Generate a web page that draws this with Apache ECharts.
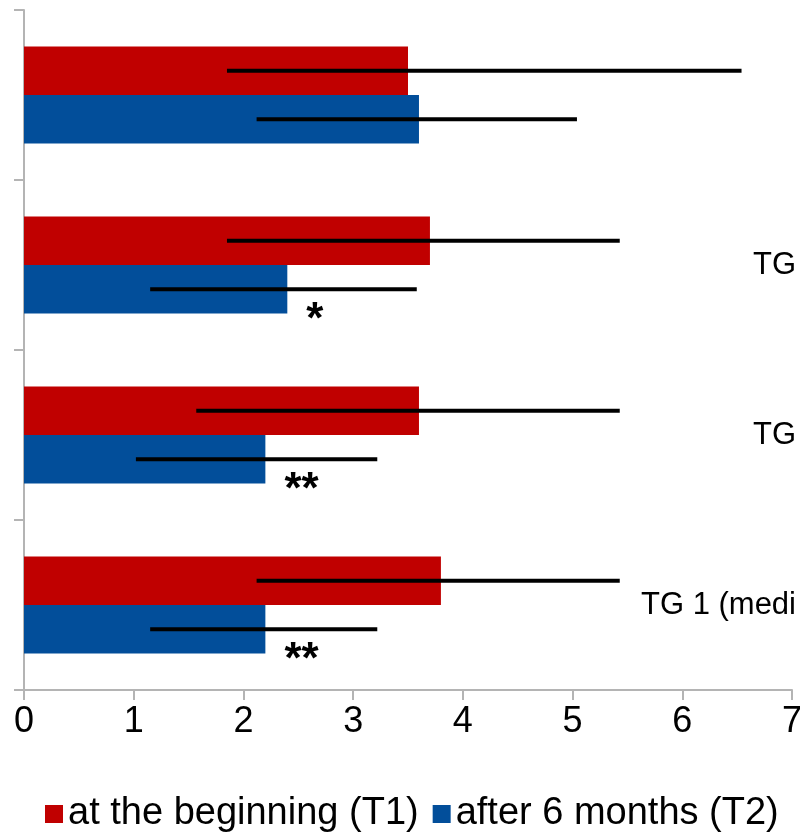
<!DOCTYPE html>
<html>
<head>
<meta charset="utf-8">
<script src="https://cdn.jsdelivr.net/npm/echarts@6/dist/echarts.min.js"></script>
<style>
  html, body { margin: 0; padding: 0; background: #fff; }
  #main { width: 800px; height: 833px; }
</style>
</head>
<body>
<div id="main"></div>
<script>
// categories, bottom to top (labels are cut off at the right edge in the original)
var categories = ['TG 1 (medi', 'TG', 'TG', ''];
var seriesNames = ['at the beginning (T1)', 'after 6 months (T2)'];
var t1Values = [3.8, 3.6, 3.7, 3.5];
var t2Values = [2.2, 2.2, 2.4, 3.6];
// error lines (low / high end)
var t1Low = [2.12, 1.57, 1.85, 1.85];
var t1High = [5.43, 5.43, 5.43, 6.54];
var t2Low = [1.15, 1.02, 1.15, 2.12];
var t2High = [3.22, 3.22, 3.58, 5.04];
// significance marks next to the T2 bars
var sigText = ['**', '**', '*', ''];
var sigX = [2.53, 2.53, 2.65, 0];
var xTicks = [0, 1, 2, 3, 4, 5, 6, 7];

var FONT = '"Liberation Sans", Arial, sans-serif';
var GAP = 0.43;

var myChart = echarts.init(document.getElementById('main'));

function errData(low, high) {
	return categories.map(function (c, i) {
		return [i, low[i], high[i]];
	});
}

// side: -1 = upper bar (T1), 1 = lower bar (T2)
function errRender(side) {
	return function (params, api) {
		var i = api.value(0);
		var c = api.coord([0, i]);
		var band = api.size([0, 1])[1];
		var barW = band * (1 - GAP) / 2;
		var y = c[1] + side * barW / 2;
		var x1 = api.coord([api.value(1), i])[0];
		var x2 = api.coord([api.value(2), i])[0];
		return {
			type: 'line',
			shape: { x1: x1, y1: y, x2: x2, y2: y },
			style: { stroke: '#000', lineWidth: 4 }
		};
	};
}

var option = {
	animation: false,
	grid: { left: 24, right: 8, top: 10, bottom: 143, outerBoundsMode: 'none' },
	legend: {
		data: seriesNames,
		left: 40,
		top: 790,
		itemGap: 14,
		itemWidth: 18,
		itemHeight: 18,
		icon: 'rect',
		textStyle: { fontSize: 38, color: '#000', fontFamily: FONT }
	},
	xAxis: {
		type: 'value',
		min: 0,
		max: 7,
		interval: 1,
		splitLine: { show: false },
		axisLine: { show: true, lineStyle: { color: '#b4b4b4', width: 2 } },
		axisTick: { show: true, length: 10, lineStyle: { color: '#b4b4b4', width: 2 } },
		axisLabel: {
			margin: 14,
			fontSize: 36,
			color: '#000',
			fontFamily: FONT,
			formatter: function (v) { return xTicks.indexOf(v) >= 0 ? String(v) : ''; }
		}
	},
	yAxis: [{
		type: 'category',
		data: categories,
		axisLine: { show: true, lineStyle: { color: '#b4b4b4', width: 2 } },
		axisTick: { show: true, length: 10, lineStyle: { color: '#b4b4b4', width: 2 } },
		axisLabel: { show: false }
	}, {
		type: 'category',
		position: 'right',
		data: categories,
		axisLine: { show: false },
		axisTick: { show: false },
		axisLabel: {
			inside: true,
			margin: -4,
			fontSize: 31,
			color: '#000',
			fontFamily: FONT,
			padding: [6, 0, 0, 0]
		}
	}],
	series: [{
		name: seriesNames[0],
		type: 'bar',
		data: t1Values,
		itemStyle: { color: '#c00000' },
		barGap: '0%',
		barCategoryGap: (GAP * 100) + '%'
	}, {
		name: seriesNames[1],
		type: 'bar',
		data: t2Values,
		itemStyle: { color: '#024e9a' },
		barGap: '0%',
		barCategoryGap: (GAP * 100) + '%'
	}, {
		name: 'err1',
		type: 'custom',
		z: 5,
		renderItem: errRender(-1),
		encode: { x: [1, 2], y: 0 },
		data: errData(t1Low, t1High)
	}, {
		name: 'err2',
		type: 'custom',
		z: 5,
		renderItem: errRender(1),
		encode: { x: [1, 2], y: 0 },
		data: errData(t2Low, t2High)
	}, {
		name: 'sig',
		type: 'custom',
		z: 6,
		renderItem: function (params, api) {
			var i = api.value(0);
			var t = sigText[i];
			if (!t) return null;
			var c = api.coord([api.value(1), i]);
			var band = api.size([0, 1])[1];
			var barW = band * (1 - GAP) / 2;
			return {
				type: 'text',
				style: {
					text: t,
					x: c[0],
					y: c[1] + barW / 2 + 32,
					align: 'center',
					verticalAlign: 'middle',
					fontSize: 44,
					fontWeight: 'bold',
					fontFamily: FONT,
					fill: '#000'
				}
			};
		},
		encode: { x: 1, y: 0 },
		data: categories.map(function (c, i) { return [i, sigX[i]]; })
	}]
};

myChart.setOption(option);
</script>
</body>
</html>
